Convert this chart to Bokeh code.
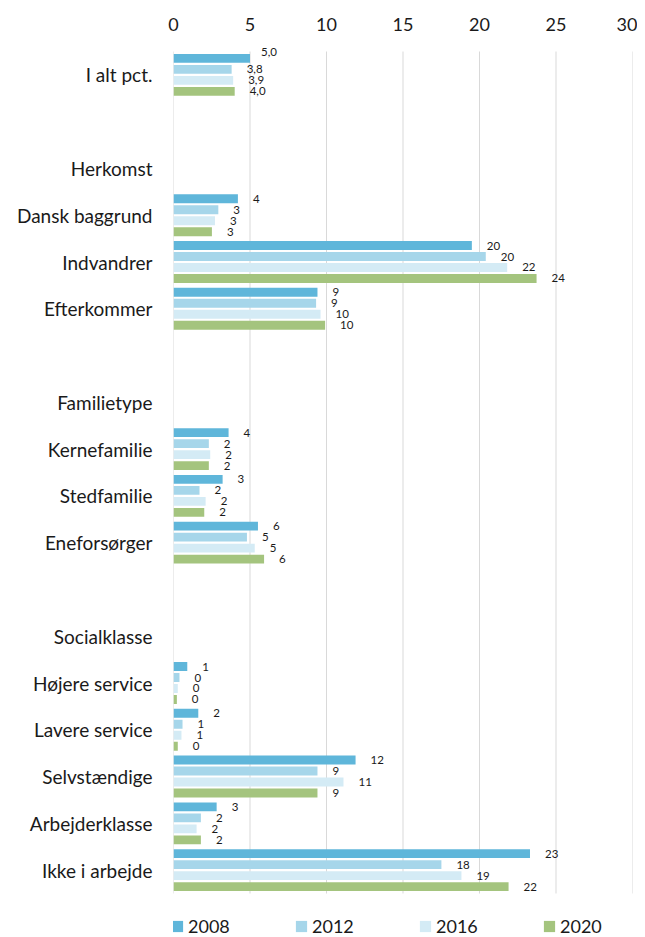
from bokeh.plotting import figure
from bokeh.models import ColumnDataSource, FixedTicker, Range1d, Legend, LegendItem
from bokeh.embed import file_html
from bokeh.resources import INLINE
from bokeh.core.properties import value

categories = ["I alt pct.", "", "Herkomst", "Dansk baggrund", "Indvandrer", "Efterkommer",
              "", "Familietype", "Kernefamilie", "Stedfamilie", "Eneforsørger",
              "", "Socialklasse", "Højere service", "Lavere service", "Selvstændige",
              "Arbejderklasse", "Ikke i arbejde"]
years = ["2008", "2012", "2016", "2020"]
v2008 = [5.0, None, None, 4.21, 19.5, 9.41, None, None, 3.6, 3.21, 5.52, None, None, 0.9, 1.62, 11.9, 2.82, 23.3]
v2012 = [3.8, None, None, 2.93, 20.41, 9.32, None, None, 2.31, 1.7, 4.8, None, None, 0.39, 0.59, 9.41, 1.79, 17.51]
v2016 = [3.9, None, None, 2.71, 21.81, 9.61, None, None, 2.4, 2.1, 5.31, None, None, 0.28, 0.52, 11.11, 1.51, 18.82]
v2020 = [4.0, None, None, 2.51, 23.73, 9.91, None, None, 2.31, 2.01, 5.92, None, None, 0.22, 0.28, 9.41, 1.79, 21.9]
x_ticks = [0, 5, 10, 15, 20, 25, 30]
colors = ["#5FB6DA", "#A6D6EA", "#D4EBF5", "#A4C47E"]

FONT = "Lato"
TXT = "#1a1a1a"

n = len(categories)
H = 937
grid_top = 51          # where the category area starts
frame_top = 40         # frame starts a little higher so top labels are not clipped
slot_px = 842 / n
y_top = -0.5 - (grid_top - frame_top) / slot_px
y_bottom = -0.5 + (H - grid_top) / slot_px

p = figure(width=637, height=H, output_backend="svg", toolbar_location=None,
           x_range=Range1d(0, 30), y_range=Range1d(y_bottom, y_top),
           x_axis_location="above",
           min_border_left=173, min_border_right=5, min_border_top=frame_top, min_border_bottom=0)
p.outline_line_color = None
p.background_fill_color = "white"
p.xgrid.grid_line_color = None
p.ygrid.grid_line_color = None

# vertical gridlines spanning only the category area
p.segment(x0=x_ticks, x1=x_ticks, y0=[-0.5] * len(x_ticks), y1=[n - 0.5] * len(x_ticks),
          line_color="#D9D9D9", line_width=1)

pitch = 0.235
bar_h = 0.19
offsets = [-1.5 * pitch, -0.5 * pitch, 0.5 * pitch, 1.5 * pitch]
series = [v2008, v2012, v2016, v2020]

items = []
for k, (yr, vals) in enumerate(zip(years, series)):
    ys, xs, labs, dxs, dys = [], [], [], [], []
    for i, v in enumerate(vals):
        if v is None:
            continue
        ys.append(i + offsets[k])
        xs.append(v)
        if i == 0:
            labs.append(f"{v:.1f}".replace(".", ","))
        else:
            labs.append(str(int(v + 0.5)))
        # the first total label sits a little higher, as in the source chart
        dxs.append(11 if (i == 0 and k == 0) else 15)
        dys.append(-6 if (i == 0 and k == 0) else 0)
    src = ColumnDataSource(dict(y=ys, x=xs, label=labs, dx=dxs, dy=dys))
    r = p.hbar(y="y", right="x", left=0, height=bar_h, source=src,
               fill_color=colors[k], line_color=None)
    p.text(x="x", y="y", text="label", source=src, x_offset="dx", y_offset="dy",
           text_baseline="middle", text_align="left",
           text_font=value(FONT), text_font_size="11.5px", text_color=TXT)
    items.append(LegendItem(label=yr, renderers=[r]))

# x axis (top)
xa = p.xaxis[0]
xa.ticker = FixedTicker(ticks=x_ticks)
xa.axis_line_color = None
xa.major_tick_line_color = None
xa.minor_tick_line_color = None
xa.major_tick_out = 0
xa.major_tick_in = 0
xa.major_label_standoff = 10
xa.major_label_text_font = FONT
xa.major_label_text_font_size = "18px"
xa.major_label_text_color = TXT

# y axis (categories)
ya = p.yaxis[0]
label_idx = [i for i, c in enumerate(categories) if c]
ya.ticker = FixedTicker(ticks=label_idx)
ya.major_label_overrides = {i: categories[i] for i in label_idx}
ya.axis_line_color = None
ya.major_tick_line_color = None
ya.minor_tick_line_color = None
ya.major_tick_out = 0
ya.major_tick_in = 0
ya.major_label_standoff = 21
ya.major_label_text_font = FONT
ya.major_label_text_font_size = "19px"
ya.major_label_text_color = TXT

legend = Legend(items=items, orientation="horizontal", location=(-3, 0),
                glyph_width=14, glyph_height=14, label_standoff=4,
                label_width=99, spacing=7, padding=0, margin=0,
                border_line_color=None, background_fill_alpha=0,
                label_text_font=FONT, label_text_font_size="18px",
                label_text_color=TXT)
p.add_layout(legend, "center")

open("out.html", "w").write(file_html(p, INLINE))
